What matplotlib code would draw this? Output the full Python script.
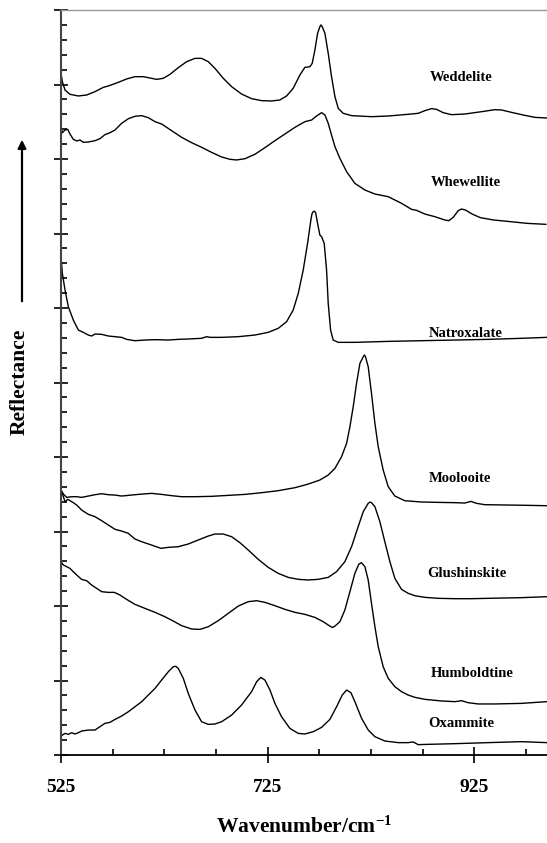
import matplotlib
matplotlib.use('Agg')
import matplotlib.pyplot as plt

plt.rcParams['font.family'] = ['Liberation Serif', 'DejaVu Serif']
plt.rcParams['mathtext.fontset'] = 'custom'
plt.rcParams['mathtext.rm'] = 'Liberation Serif:bold'
plt.rcParams['mathtext.bf'] = 'Liberation Serif:bold'
plt.rcParams['mathtext.default'] = 'bf'

# spectra (stacked, arbitrary offsets)
weddelite_x = [525.0, 526.3, 528.9, 533.7, 541.8, 549.8, 557.9, 566.0, 570.8, 580.5,
               588.5, 596.6, 604.7, 612.7, 617.6, 624.0, 630.5, 638.5, 646.6, 654.7,
               661.1, 667.6, 674.0, 682.1, 690.2, 699.8, 709.5, 719.2, 728.9, 736.9,
               743.4, 749.8, 756.3, 761.1, 766.0, 768.2, 770.8, 773.4, 775.6, 776.7,
               777.9, 780.5, 783.7, 786.9, 790.2, 793.4, 798.2, 806.3, 825.6, 841.8,
               861.1, 870.8, 877.3, 883.7, 888.5, 895.0, 903.1, 916.0, 932.1, 945.0,
               951.5, 961.1, 974.0, 983.7, 995.3]
weddelite_y = [9.150, 9.038, 8.926, 8.868, 8.846, 8.859, 8.904, 8.962, 8.980, 9.029,
               9.074, 9.105, 9.105, 9.083, 9.069, 9.083, 9.136, 9.226, 9.306, 9.351,
               9.351, 9.306, 9.217, 9.083, 8.971, 8.872, 8.810, 8.783, 8.779, 8.792,
               8.846, 8.949, 9.128, 9.230, 9.239, 9.284, 9.463, 9.687, 9.775, 9.800,
               9.775, 9.687, 9.418, 9.105, 8.837, 8.680, 8.613, 8.582, 8.568, 8.577,
               8.600, 8.613, 8.649, 8.676, 8.667, 8.622, 8.595, 8.604, 8.635, 8.662,
               8.658, 8.626, 8.586, 8.559, 8.550]

whewellite_x = [525.0, 526.3, 528.9, 531.5, 533.7, 536.9, 540.2, 543.4, 546.6, 551.5,
                557.9, 562.7, 567.6, 572.4, 577.3, 583.7, 590.2, 596.6, 603.1, 609.5,
                616.0, 622.4, 632.1, 641.8, 651.5, 661.1, 670.8, 680.5, 688.5, 695.0,
                703.1, 712.7, 722.4, 732.1, 741.8, 751.5, 761.1, 767.6, 772.4, 777.3,
                780.5, 783.7, 786.9, 790.2, 795.0, 801.5, 809.5, 819.2, 828.9, 841.8,
                854.7, 864.4, 869.2, 877.3, 886.9, 896.6, 900.5, 904.7, 909.5, 912.7,
                916.6, 923.0, 931.1, 944.0, 960.1, 976.3, 994.4]
whewellite_y = [8.412, 8.353, 8.389, 8.398, 8.336, 8.264, 8.242, 8.255, 8.224, 8.228,
                8.246, 8.273, 8.327, 8.353, 8.389, 8.479, 8.541, 8.573, 8.582, 8.555,
                8.501, 8.470, 8.380, 8.291, 8.219, 8.157, 8.089, 8.027, 7.996, 7.987,
                8.004, 8.063, 8.152, 8.246, 8.336, 8.425, 8.501, 8.523, 8.577, 8.622,
                8.591, 8.479, 8.322, 8.166, 8.009, 7.830, 7.673, 7.584, 7.530, 7.494,
                7.405, 7.324, 7.311, 7.261, 7.226, 7.181, 7.172, 7.217, 7.306, 7.329,
                7.315, 7.261, 7.212, 7.181, 7.159, 7.136, 7.123]

natroxalate_x = [525.0, 526.3, 528.9, 532.1, 536.9, 541.8, 546.6, 551.5, 554.7, 557.9,
                 564.4, 570.8, 577.3, 583.7, 588.5, 596.6, 606.3, 616.0, 628.9, 638.5,
                 648.2, 661.1, 666.0, 669.2, 680.5, 696.6, 712.7, 725.6, 735.3, 743.4,
                 749.8, 754.7, 759.5, 763.7, 766.9, 768.0, 769.2, 770.4, 771.5, 774.0,
                 775.6, 777.3, 779.8, 782.1, 783.7, 786.0, 788.5, 793.4, 809.5, 841.8,
                 874.0, 906.3, 938.5, 970.8, 995.3]
natroxalate_y = [6.689, 6.465, 6.241, 6.018, 5.839, 5.704, 5.673, 5.637, 5.624, 5.651,
                 5.646, 5.624, 5.615, 5.606, 5.579, 5.561, 5.570, 5.575, 5.570, 5.579,
                 5.584, 5.593, 5.615, 5.606, 5.606, 5.615, 5.637, 5.673, 5.727, 5.816,
                 5.973, 6.197, 6.510, 6.868, 7.181, 7.265, 7.293, 7.300, 7.279, 7.091,
                 6.980, 6.957, 6.868, 6.510, 6.062, 5.704, 5.570, 5.539, 5.539, 5.552,
                 5.561, 5.570, 5.579, 5.593, 5.606]

moolooite_x = [525.0, 527.3, 530.5, 535.3, 540.2, 545.0, 551.5, 557.9, 564.4, 570.8,
               577.3, 583.7, 590.2, 599.8, 612.7, 622.4, 632.1, 641.8, 654.7, 670.8,
               686.9, 703.1, 719.2, 735.3, 751.5, 764.4, 775.6, 783.7, 790.2, 796.6,
               801.5, 804.7, 807.9, 811.1, 814.4, 817.6, 818.7, 819.8, 822.4, 825.6,
               828.9, 832.1, 836.9, 841.8, 848.2, 857.9, 874.0, 890.1, 906.3, 916.0,
               921.8, 927.3, 935.3, 954.7, 977.3, 995.3]
moolooite_y = [3.557, 3.503, 3.458, 3.467, 3.467, 3.458, 3.476, 3.494, 3.507, 3.494,
               3.489, 3.476, 3.485, 3.498, 3.512, 3.498, 3.481, 3.467, 3.467, 3.472,
               3.485, 3.498, 3.521, 3.548, 3.588, 3.637, 3.691, 3.758, 3.847, 4.004,
               4.183, 4.407, 4.675, 4.988, 5.257, 5.345, 5.370, 5.345, 5.212, 4.854,
               4.451, 4.138, 3.825, 3.601, 3.476, 3.413, 3.396, 3.391, 3.387, 3.382,
               3.404, 3.378, 3.360, 3.356, 3.351, 3.346]

glushinskite_x = [525.0, 527.3, 528.9, 531.5, 533.7, 536.9, 540.2, 545.0, 551.5, 557.9,
                  564.4, 570.8, 577.3, 583.7, 590.2, 596.6, 603.1, 612.7, 621.8, 628.9,
                  638.5, 648.2, 657.9, 667.6, 674.0, 682.1, 690.2, 698.2, 706.3, 716.0,
                  725.6, 735.3, 745.0, 754.7, 764.4, 774.0, 783.7, 791.8, 799.8, 806.3,
                  812.7, 817.6, 822.4, 824.0, 825.6, 828.9, 833.7, 838.5, 843.4, 848.2,
                  854.7, 861.1, 867.6, 877.3, 890.1, 906.3, 922.4, 938.5, 970.8, 995.3]
glushinskite_y = [3.557, 3.467, 3.400, 3.431, 3.414, 3.387, 3.355, 3.288, 3.230, 3.199,
                  3.145, 3.087, 3.029, 3.006, 2.975, 2.899, 2.863, 2.818, 2.774, 2.787,
                  2.796, 2.832, 2.886, 2.939, 2.966, 2.966, 2.930, 2.850, 2.751, 2.626,
                  2.519, 2.438, 2.384, 2.358, 2.349, 2.358, 2.384, 2.461, 2.595, 2.796,
                  3.065, 3.266, 3.378, 3.395, 3.387, 3.333, 3.132, 2.863, 2.595, 2.371,
                  2.223, 2.170, 2.138, 2.116, 2.103, 2.098, 2.098, 2.103, 2.112, 2.125]

humboldtine_x = [525.0, 527.3, 530.5, 533.7, 536.9, 540.2, 545.0, 549.8, 554.7, 559.5,
                 564.4, 570.8, 576.6, 582.1, 588.5, 596.6, 606.3, 616.0, 625.6, 633.7,
                 641.8, 651.5, 659.5, 667.6, 677.3, 686.9, 696.6, 706.3, 714.4, 722.4,
                 732.1, 741.8, 751.5, 761.1, 770.8, 778.9, 785.3, 787.8, 790.2, 795.0,
                 799.8, 804.7, 809.5, 813.4, 815.9, 819.2, 822.4, 825.6, 828.9, 832.1,
                 836.9, 841.8, 848.2, 854.7, 861.1, 867.6, 877.3, 893.4, 906.3, 912.7,
                 919.2, 928.9, 945.0, 970.8, 995.3]
humboldtine_y = [2.595, 2.550, 2.528, 2.505, 2.460, 2.416, 2.357, 2.340, 2.281, 2.237,
                 2.192, 2.183, 2.183, 2.147, 2.089, 2.022, 1.968, 1.915, 1.856, 1.798,
                 1.736, 1.691, 1.686, 1.722, 1.803, 1.901, 1.999, 2.058, 2.071, 2.049,
                 2.004, 1.955, 1.915, 1.888, 1.847, 1.789, 1.730, 1.712, 1.730, 1.789,
                 1.946, 2.192, 2.438, 2.563, 2.581, 2.528, 2.349, 2.035, 1.722, 1.454,
                 1.185, 1.029, 0.917, 0.850, 0.805, 0.774, 0.747, 0.725, 0.716, 0.729,
                 0.702, 0.685, 0.685, 0.693, 0.716]

oxammite_x = [525.0, 526.3, 528.9, 532.1, 535.3, 538.5, 541.8, 545.0, 551.5, 557.9,
              561.7, 567.6, 572.4, 577.3, 583.7, 590.2, 596.6, 603.1, 609.5, 616.0,
              622.4, 628.9, 633.7, 636.1, 638.5, 643.4, 648.2, 654.7, 661.1, 667.6,
              674.0, 680.5, 690.2, 699.8, 709.5, 714.4, 718.5, 722.4, 727.3, 732.1,
              738.5, 746.6, 754.7, 761.1, 769.2, 777.3, 785.3, 791.8, 797.3, 801.5,
              805.7, 809.5, 816.0, 822.4, 828.9, 838.5, 851.4, 861.1, 865.9, 870.8,
              880.5, 906.3, 938.5, 970.8, 995.3]
oxammite_y = [0.246, 0.268, 0.290, 0.277, 0.299, 0.282, 0.299, 0.322, 0.335, 0.335,
              0.371, 0.425, 0.438, 0.478, 0.523, 0.581, 0.648, 0.715, 0.805, 0.894,
              1.006, 1.118, 1.185, 1.190, 1.163, 1.029, 0.827, 0.604, 0.447, 0.411,
              0.416, 0.447, 0.536, 0.671, 0.850, 0.984, 1.042, 1.006, 0.872, 0.693,
              0.514, 0.357, 0.290, 0.282, 0.313, 0.371, 0.478, 0.648, 0.805, 0.872,
              0.836, 0.716, 0.492, 0.336, 0.246, 0.188, 0.166, 0.166, 0.175, 0.139,
              0.143, 0.152, 0.166, 0.179, 0.166]

names = ['Weddelite', 'Whewellite', 'Natroxalate', 'Moolooite',
         'Glushinskite', 'Humboldtine', 'Oxammite']
label_x = [882, 883, 881, 881, 880, 883, 881]
label_y = [9.09, 7.68, 5.66, 3.71, 2.44, 1.09, 0.42]

x_major = [525, 725, 925]
x_minor = [575, 625, 675, 775, 825, 875, 975]

spectra = [(weddelite_x, weddelite_y), (whewellite_x, whewellite_y),
           (natroxalate_x, natroxalate_y), (moolooite_x, moolooite_y),
           (glushinskite_x, glushinskite_y), (humboldtine_x, humboldtine_y),
           (oxammite_x, oxammite_y)]

fig = plt.figure(figsize=(5.47, 8.43), dpi=100)
ax = fig.add_axes([61 / 547, 88 / 843, 486 / 547, 745 / 843])

for (xs, ys), name, lx, ly in zip(spectra, names, label_x, label_y):
    ax.plot(xs, ys, color='black', lw=1.0)
    ax.text(lx, ly, name, fontsize=10.5, fontweight='bold', ha='left', va='center')

ax.set_xlim(525, 995.5)
ax.set_ylim(0, 10)

ax.set_xticks(x_major)
ax.set_xticks(x_minor, minor=True)
ax.set_yticks(range(0, 11))
ax.set_yticks([i * 0.2 for i in range(51)], minor=True)
ax.set_yticklabels([])
ax.set_xticklabels([str(v) for v in x_major], fontsize=14, fontweight='bold')

ax.tick_params(axis='x', which='major', direction='inout', length=12, width=1.2, pad=11)
ax.tick_params(axis='x', which='minor', direction='in', length=4, width=1.2)
ax.tick_params(axis='y', which='major', direction='inout', length=10, width=1.2)
ax.tick_params(axis='y', which='minor', direction='in', length=4, width=1.2)

ax.spines['right'].set_visible(False)
ax.spines['top'].set_color('#999999')
ax.spines['top'].set_linewidth(1.0)
ax.spines['left'].set_color('#444444')
ax.spines['left'].set_linewidth(1.5)
ax.spines['bottom'].set_linewidth(1.3)

ax.set_xlabel('Wavenumber/cm$^{-1}$', fontsize=15.5, fontweight='bold', labelpad=15)

fig.text(20 / 547, (843 - 382) / 843, 'Reflectance', rotation=90, fontsize=15.5,
         fontweight='bold', ha='center', va='center')
ax.annotate('', xy=(22, 843 - 137), xytext=(22, 843 - 304),
            xycoords='figure pixels', textcoords='figure pixels',
            arrowprops=dict(arrowstyle='-|>', color='black', lw=1.6,
                            mutation_scale=12))

fig.savefig('out.png', dpi=100)
